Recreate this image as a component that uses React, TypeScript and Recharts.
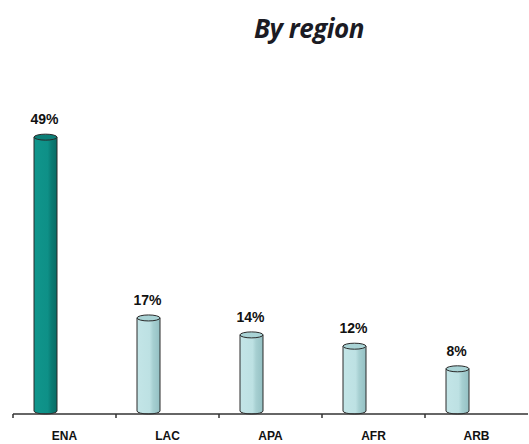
import React from "react";
import { BarChart, Bar, XAxis, YAxis, LabelList } from "recharts";

const regions = ["ENA", "LAC", "APA", "AFR", "ARB"];
const shares = [49, 17, 14, 12, 8];
const highlighted = ["ENA"];

const data = regions.map((r, i) => ({ region: r, share: shares[i] }));

const SHIFT = -19;

const Cylinder = (props: any) => {
  const { x, y, width, height, payload } = props;
  const hot = highlighted.includes(payload.region);
  const bx = x + SHIFT;
  const ry = 3;
  const grad = hot ? "url(#gTeal)" : "url(#gLight)";
  const top = hot ? "#0b7f77" : "#a9d3d5";
  const body = `M${bx},${y} L${bx},${y + height - ry} A${width / 2},${ry} 0 0 0 ${bx + width},${y + height - ry} L${bx + width},${y} Z`;
  return (
    <g>
      <path d={body} fill={grad} stroke="#2a2a2a" strokeWidth={1} />
      <ellipse cx={bx + width / 2} cy={y} rx={width / 2} ry={ry} fill={top} stroke="#2a2a2a" strokeWidth={1} />
    </g>
  );
};

const ValueLabel = (props: any) => {
  const { x, y, width, value } = props;
  return (
    <text x={x + SHIFT + width / 2 - 1} y={y - 13} textAnchor="middle" fontFamily="Liberation Sans, Arial, sans-serif" fontWeight="bold" fontSize={14} fill="#111">
      {value}%
    </text>
  );
};

const CatTick = (props: any) => {
  const { x, y, payload } = props;
  const half = 51.5;
  return (
    <g>
      <line x1={x - half} y1={y - 8} x2={x - half} y2={y - 4} stroke="#333" strokeWidth={1.5} />
      <text x={x} y={y + 18} textAnchor="middle" fontFamily="Liberation Sans, Arial, sans-serif" fontWeight="bold" fontSize={12} fill="#111">
        {payload.value}
      </text>
    </g>
  );
};

export default function App() {
  return (
    <div style={{ position: "absolute", left: 0, top: 0, width: 529, height: 444, background: "#fff", overflow: "hidden" }}>
      <div style={{ position: "absolute", left: 0, top: 10, width: 618, textAlign: "center", fontFamily: "Open Sans, sans-serif", fontWeight: 700, fontStyle: "italic", fontSize: 26, color: "#1b1b24", lineHeight: "36px", letterSpacing: -0.5 }}>
        By region
      </div>
      <BarChart width={529} height={444} data={data} margin={{ top: 75, right: 1, bottom: 0, left: 13 }} barSize={23}>
        <defs>
          <linearGradient id="gTeal" x1="0" y1="0" x2="1" y2="0">
            <stop offset="0%" stopColor="#10968c" />
            <stop offset="60%" stopColor="#0e9087" />
            <stop offset="75%" stopColor="#0a7c74" />
            <stop offset="100%" stopColor="#086b64" />
          </linearGradient>
          <linearGradient id="gLight" x1="0" y1="0" x2="1" y2="0">
            <stop offset="0%" stopColor="#c3e5e7" />
            <stop offset="55%" stopColor="#bde1e3" />
            <stop offset="70%" stopColor="#a6cfd1" />
            <stop offset="100%" stopColor="#94c0c3" />
          </linearGradient>
        </defs>
        <XAxis dataKey="region" height={30} axisLine={{ stroke: "#333", strokeWidth: 1.5 }} tickLine={false} tick={<CatTick />} interval={0} />
        <YAxis hide domain={[0, 60]} />
        <Bar dataKey="share" shape={<Cylinder />} isAnimationActive={false}>
          <LabelList dataKey="share" content={<ValueLabel />} />
        </Bar>
      </BarChart>
    </div>
  );
}
